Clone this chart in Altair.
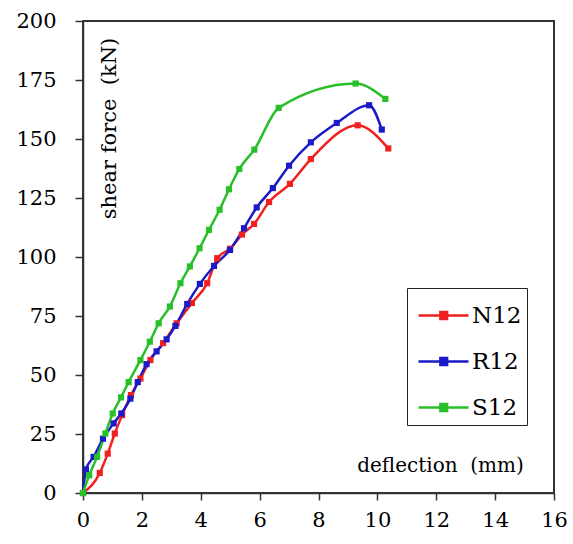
import altair as alt
import pandas as pd

# Series values
n_x = [0, 0.57, 0.84, 1.08, 1.33, 1.63, 1.95, 2.29, 2.72, 3.18, 3.70, 4.22, 4.56, 5.00, 5.40, 5.81, 6.32, 7.03, 7.74, 9.33, 10.37]
n_y = [0, 8.5, 16.7, 25.2, 33.0, 41.5, 48.5, 56.3, 63.5, 71.9, 80.5, 88.9, 99.5, 103.5, 109.5, 114.0, 123.3, 131.0, 141.5, 155.8, 146.0]

r_x = [0, 0.10, 0.36, 0.68, 1.04, 1.30, 1.61, 1.86, 2.16, 2.50, 2.84, 3.14, 3.54, 3.97, 4.45, 4.99, 5.47, 5.90, 6.45, 7.00, 7.74, 8.62, 9.72, 10.15]
r_y = [0, 10.0, 15.3, 23.0, 29.5, 33.7, 40.0, 47.0, 54.6, 60.0, 65.1, 70.8, 80.1, 88.6, 96.2, 103.0, 112.2, 121.0, 129.2, 138.7, 148.6, 156.8, 164.3, 154.0]

s_x = [0, 0.21, 0.48, 0.76, 1.01, 1.29, 1.55, 1.95, 2.27, 2.57, 2.95, 3.31, 3.63, 3.96, 4.28, 4.64, 4.96, 5.31, 5.82, 6.65, 9.26, 10.27]
s_y = [0, 7.5, 15.3, 25.2, 33.7, 40.5, 47.0, 56.3, 64.1, 71.9, 79.0, 88.9, 96.0, 103.7, 111.5, 120.0, 128.7, 137.3, 145.5, 163.2, 173.5, 167.0]

series_names = ["N12", "R12", "S12"]
series_colors = ["#F02020", "#1A1AC8", "#28C028"]
x_ticks = [0, 2, 4, 6, 8, 10, 12, 14, 16]
y_ticks = [0, 25, 50, 75, 100, 125, 150, 175, 200]
x_range = [0, 16]
y_range = [0, 200]

rows = []
for name, xs, ys in zip(series_names, [n_x, r_x, s_x], [n_y, r_y, s_y]):
    for i, (a, b) in enumerate(zip(xs, ys)):
        rows.append({"series": name, "deflection": a, "force": b, "idx": i})
df = pd.DataFrame(rows)

frame_df = pd.DataFrame({"x0": [x_range[0]], "x1": [x_range[1]],
                         "y0": [y_range[0]], "y1": [y_range[1]]})

FONT = "DejaVu Serif"

legend_path = "M-0.76,0H1.62M0.28,-0.17H0.6V0.17H0.28Z"

xscale = alt.Scale(domain=x_range, nice=False)
yscale = alt.Scale(domain=y_range, nice=False)

x_axis = alt.Axis(values=x_ticks, title="deflection\u00a0 (mm)", grid=False,
                  tickSize=7, labelPadding=9, labelFontSize=21, labelFont=FONT,
                  labelFlush=False,
                  labelColor="black", tickColor="#333", domainColor="#333",
                  domainWidth=1.5, tickWidth=1.5,
                  titleFont=FONT, titleFontSize=20, titleFontWeight="normal",
                  titleColor="black",
                  titleX=357, titleY=-28, titleAlign="center",
                  titleBaseline="middle")
y_axis = alt.Axis(values=y_ticks, title="shear force\u00a0 (kN)", grid=False,
                  tickSize=8, labelPadding=19, labelFontSize=21, labelFont=FONT,
                  labelFlush=False,
                  labelColor="black", tickColor="#333", domainColor="#333",
                  domainWidth=1.5, tickWidth=1.5,
                  titleFont=FONT, titleFontSize=21, titleFontWeight="normal",
                  titleColor="black", titleAngle=270,
                  titleX=26, titleY=107, titleAlign="center",
                  titleBaseline="middle")

# frame outline drawn first (no fill), so the curves lie on top of it
frame = alt.Chart(frame_df).mark_rect(
    filled=False, stroke="#333", strokeWidth=2
).encode(
    x=alt.X("x0:Q", scale=xscale, axis=x_axis),
    x2="x1:Q",
    y=alt.Y("y0:Q", scale=yscale, axis=y_axis),
    y2="y1:Q",
)

lines = alt.Chart(df).mark_line(
    interpolate="monotone",
    strokeWidth=2.5,
    point=alt.OverlayMarkDef(shape="square", filled=True, size=38, opacity=1),
).encode(
    x=alt.X("deflection:Q", scale=xscale, axis=x_axis),
    y=alt.Y("force:Q", scale=yscale, axis=y_axis),
    color=alt.Color("series:N",
                    scale=alt.Scale(domain=series_names, range=series_colors),
                    legend=alt.Legend(title=None, orient="none", legendX=324, legendY=267,
                                      symbolType=legend_path, symbolSize=1764,
                                      symbolStrokeWidth=2.5, labelFont=FONT,
                                      labelFontSize=23, labelColor="black",
                                      labelOffset=15, rowPadding=11, padding=5,
                                      strokeColor="#222", fillColor="white")),
    order=alt.Order("idx:Q"),
)

chart = alt.layer(frame, lines).properties(
    width=471,
    height=472,
    padding={"left": 83, "top": 21, "right": 19, "bottom": 51},
    autosize="none",
    background="white",
).configure_view(strokeWidth=0)

chart.save("out.html", embed_options={"renderer": "svg", "actions": False})
